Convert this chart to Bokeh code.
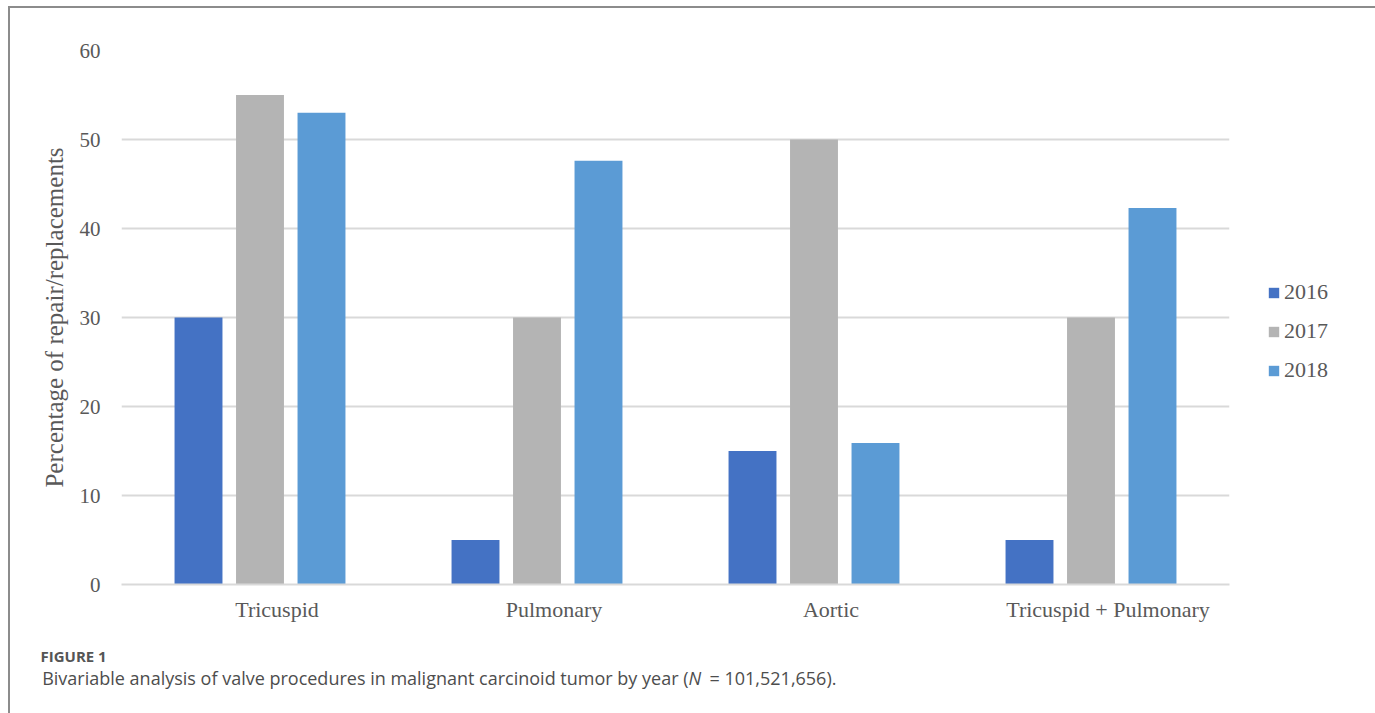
from bokeh.plotting import figure
from bokeh.layouts import column
from bokeh.models import (ColumnDataSource, Range1d, Legend, LegendItem,
                          LinearAxis, FixedTicker)
from bokeh.core.properties import value
from bokeh.transform import dodge
from bokeh.embed import file_html
from bokeh.resources import INLINE

categories = ["Tricuspid", "Pulmonary", "Aortic", "Tricuspid + Pulmonary"]
years = ["2016", "2017", "2018"]
v2016 = [30, 5, 15, 5]
v2017 = [55, 30, 50, 30]
v2018 = [53, 47.6, 15.9, 42.3]
colors = ["#4472C4", "#B4B4B4", "#5B9BD5"]
y_ticks = [0, 10, 20, 30, 40, 50, 60]
y_title = "Percentage of repair/replacements"
fig_label = "FIGURE 1"
caption_a = "Bivariable analysis of valve procedures in malignant carcinoid tumor by year ("
caption_n = "N"
caption_b = " = 101,521,656)."

n = len(categories)
xpos = [i + 0.5 for i in range(n)]  # slot centre of each category
src = ColumnDataSource(dict(x=xpos, cat=categories, y2016=v2016, y2017=v2017, y2018=v2018))

LB, RB = 111, 139
FW, FH = 1108, 534
p = figure(frame_width=FW, frame_height=FH, x_range=Range1d(0, n),
           y_range=Range1d(0, 60), output_backend="svg", toolbar_location=None,
           min_border_left=LB, min_border_top=42, min_border_right=RB,
           min_border_bottom=46)
p.outline_line_color = None

serif = "Liberation Serif"
txt = "#595959"

bw = 0.173
off = 0.222
renderers = []
for i, (yr, col) in enumerate(zip(years, colors)):
    r = p.vbar(x=dodge("x", (i - 1) * off), top="y" + yr, width=bw,
               source=src, fill_color=col, line_color=None)
    renderers.append(r)

# y axis
p.yaxis.ticker = y_ticks
p.yaxis.axis_line_color = None
p.yaxis.major_tick_line_color = None
p.yaxis.minor_tick_line_color = None
p.yaxis.major_label_text_font = serif
p.yaxis.major_label_text_font_size = "21px"
p.yaxis.major_label_text_color = txt
p.yaxis.major_label_standoff = 15
p.yaxis.axis_label = y_title
p.yaxis.axis_label_text_font = serif
p.yaxis.axis_label_text_font_size = "25px"
p.yaxis.axis_label_text_font_style = "normal"
p.yaxis.axis_label_text_color = txt
p.yaxis.axis_label_standoff = 9

# x axis: baseline only
p.xaxis.ticker = FixedTicker(ticks=[])
p.xaxis.axis_line_color = "#D9D9D9"
p.xaxis.axis_line_width = 2
p.xaxis.major_tick_line_color = None
p.xaxis.minor_tick_line_color = None
p.xaxis.major_label_text_font_size = "0px"
p.xaxis.major_label_standoff = 0

# category labels (placed slightly right of the bar groups, as in the original)
shift = 17 / (FW / n)
p.extra_x_ranges = {"lbl": Range1d(-shift, n - shift)}
xa = LinearAxis(x_range_name="lbl", ticker=FixedTicker(ticks=xpos),
                major_label_overrides={t: c for t, c in zip(xpos, categories)})
xa.axis_line_color = None
xa.major_tick_line_color = None
xa.minor_tick_line_color = None
xa.major_label_text_font = serif
xa.major_label_text_font_size = "22px"
xa.major_label_text_color = txt
xa.major_label_standoff = 6
p.add_layout(xa, "below")

p.xgrid.grid_line_color = None
p.ygrid.grid_line_color = "#D9D9D9"
p.ygrid.grid_line_width = 2

legend = Legend(items=[LegendItem(label=yr, renderers=[r]) for yr, r in zip(years, renderers)],
                location=(38, 201), orientation="vertical", border_line_color=None,
                background_fill_alpha=0, padding=0, margin=0, spacing=13,
                glyph_width=13, glyph_height=13, label_height=26, label_standoff=4,
                label_text_font=serif, label_text_font_size="22px", label_text_color=txt)
p.add_layout(legend, "right")

# caption panel (its frame is aligned with the chart frame by the column layout,
# so the x range is expressed in pixels from the inner left edge of the box)
CW, CH = LB + FW + RB, 100
cap = figure(frame_width=CW, frame_height=CH, x_range=Range1d(LB, LB + CW),
             y_range=Range1d(CH, 0), output_backend="svg", toolbar_location=None,
             min_border=0)
cap.axis.visible = False
cap.grid.visible = False
cap.outline_line_color = None
sans = value("Open Sans")
cap_col = "#4d4d4d"
cap.text(x=[30], y=[25], text=[fig_label], text_font=sans, text_font_size="15px",
         text_font_style="bold", text_color="#555555", text_baseline="middle",
         level="overlay")
cap.text(x=[678], y=[47], text=[caption_a], text_font=sans, text_font_size="18px",
         text_color=cap_col, text_baseline="middle", text_align="right", level="overlay")
cap.text(x=[678], y=[47], text=[caption_n], text_font=sans, text_font_size="18px",
         text_font_style="italic", text_color=cap_col, text_baseline="middle",
         level="overlay")
cap.text(x=[699], y=[47], text=[caption_b], text_font=sans, text_font_size="18px",
         text_color=cap_col, text_baseline="middle", level="overlay")

layout = column(p, cap, spacing=0, margin=(6, 0, 0, 8),
                styles={"border": "2px solid #8C8C8C"})

open("out.html", "w").write(file_html(layout, INLINE))
